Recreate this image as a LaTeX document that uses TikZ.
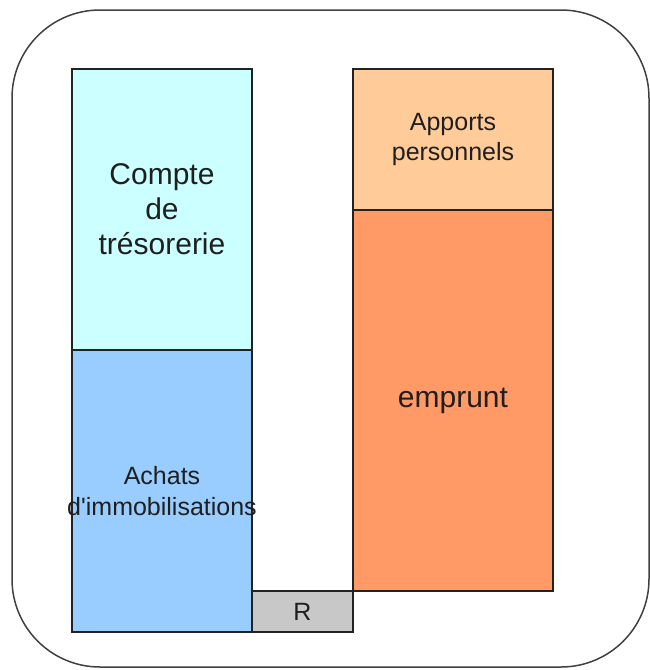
\documentclass[tikz,border=0pt]{standalone}
\usepackage{fontspec}
\setmainfont{Liberation Sans}
\definecolor{tresoC}{HTML}{CCFFFF}
\definecolor{achatsC}{HTML}{99CCFF}
\definecolor{apportsC}{HTML}{FFCC99}
\definecolor{empruntC}{HTML}{FF9966}
\definecolor{resC}{HTML}{C8C8C8}
\definecolor{lineC}{HTML}{222222}
\begin{document}
\begin{tikzpicture}[x=1pt,y=-1pt,
  box/.style={draw=lineC, line width=1.2pt, inner sep=0pt, outer sep=0pt,
    align=center, text=black!88, anchor=north west},
  big/.style={font=\fontsize{30}{35}\selectfont},
  small/.style={font=\fontsize{25}{30}\selectfont},
]
\useasboundingbox (0,0) rectangle (650,670);
\draw[draw=black!75, line width=1.5pt, rounded corners=88pt] (12,10) rectangle (649,667);
\node[box, big, fill=tresoC, minimum width=180pt, minimum height=281pt] (treso) at (72,69) {Compte\\de\\trésorerie};
\node[box, small, fill=achatsC, minimum width=180pt, minimum height=282pt] (achats) at (72,350) {Achats\\[1pt]\makebox[0pt]{d\textquotesingle immobilisations}};
\node[box, small, fill=apportsC, minimum width=200pt, minimum height=141pt] (apports) at (353,69) {Apports\\personnels};
\node[box, big, fill=empruntC, minimum width=200pt, minimum height=381pt] (emprunt) at (353,210) {emprunt};
\node[box, small, fill=resC, minimum width=101pt, minimum height=41pt] (res) at (252,591) {R};
\end{tikzpicture}
\end{document}
